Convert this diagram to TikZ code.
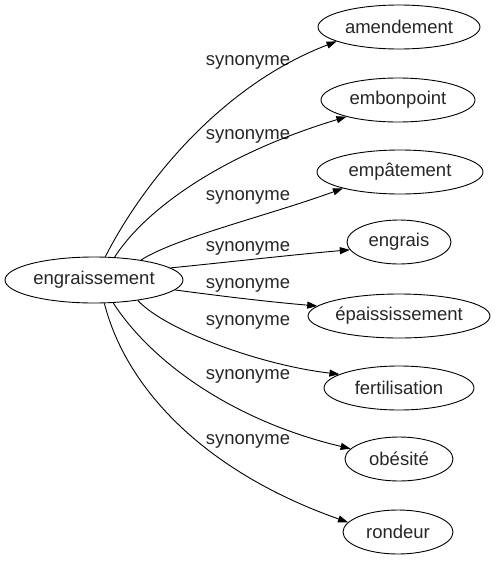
\documentclass[tikz,border=0pt]{standalone}
\usepackage{fontspec}
\setmainfont{Liberation Sans}
\usetikzlibrary{shapes.geometric,arrows.meta}
\begin{document}
\begin{tikzpicture}[x=1pt,y=-1pt,
  word/.style={draw=black, ellipse, line width=0.9pt, inner sep=0pt, minimum height=44pt,
    font=\fontsize{18.5}{20}\selectfont, text=black!85},
  rel/.style={font=\fontsize{18.5}{20}\selectfont, text=black!85, inner sep=0pt},
  link/.style={draw=black, line width=0.9pt, -{Triangle[length=10pt,width=7pt]}}]
\useasboundingbox (0,0) rectangle (496,563);

\node[word, minimum width=178pt, minimum height=46pt] (src) at (94,280) {engraissement};

\node[word, minimum width=162pt] (t1) at (399,27)  {amendement};
\node[word, minimum width=154pt] (t2) at (398,100) {embonpoint};
\node[word, minimum width=166pt] (t3) at (400,172) {empâtement};
\node[word, minimum width=104pt] (t4) at (399,242) {engrais};
\node[word, minimum width=182pt] (t5) at (399,316) {épaississement};
\node[word, minimum width=150pt] (t6) at (399,388) {fertilisation};
\node[word, minimum width=108pt] (t7) at (399,459) {obésité};
\node[word, minimum width=110pt] (t8) at (398,532) {rondeur};

\node[rel] (l1) at (248,62)  {synonyme};
\node[rel] (l2) at (248,136) {synonyme};
\node[rel] (l3) at (248,197) {synonyme};
\node[rel] (l4) at (248,248) {synonyme};
\node[rel] (l5) at (248,285) {synonyme};
\node[rel] (l6) at (248,322) {synonyme};
\node[rel] (l7) at (248,376) {synonyme};
\node[rel] (l8) at (248,441) {synonyme};

\draw[link] (src.64)  .. controls (138,192) and (215,88)  .. (t1.193);
\draw[link] (src.48)  .. controls (145,210) and (220,155) .. (t2.198);
\draw[link] (src.23)  .. controls (175,238) and (270,215) .. (t3.196);
\draw[link] (src.9)   .. controls (230,262) and (290,255) .. (t4.189);
\draw[link] (src.-7)  .. controls (220,296) and (270,302) .. (t5.173);
\draw[link] (src.-25) .. controls (165,330) and (260,365) .. (t6.167);
\draw[link] (src.-50) .. controls (150,360) and (230,420) .. (t7.168);
\draw[link] (src.-66) .. controls (125,385) and (200,470) .. (t8.169);
\end{tikzpicture}
\end{document}
